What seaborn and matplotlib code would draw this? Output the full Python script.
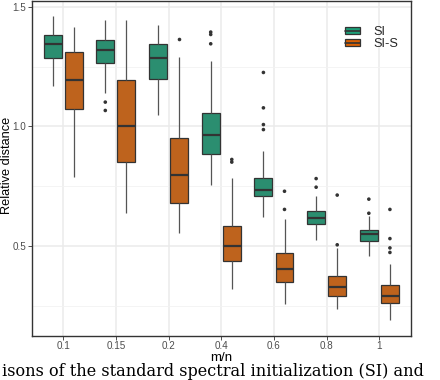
import numpy as np
import pandas as pd
import matplotlib
matplotlib.use("Agg")
import matplotlib.pyplot as plt
import seaborn as sns
from matplotlib.patches import Patch
from matplotlib.lines import Line2D
from matplotlib.legend_handler import HandlerTuple

categories = ["0.1", "0.15", "0.2", "0.4", "0.6", "0.8", "1"]
methods = ["SI", "SI-S"]
colors = ["#1B9E77", "#D95F02"]

# SI box summaries (lower whisker, Q1, median, Q3, upper whisker)
si_whislo = [1.169, 1.141, 1.046, 0.757, 0.622, 0.524, 0.460]
si_q1 = [1.287, 1.265, 1.197, 0.884, 0.708, 0.593, 0.522]
si_med = [1.346, 1.319, 1.287, 0.964, 0.736, 0.619, 0.552]
si_q3 = [1.382, 1.361, 1.344, 1.057, 0.784, 0.646, 0.568]
si_whishi = [1.464, 1.446, 1.425, 1.273, 0.897, 0.711, 0.625]
si_outliers = [[], [1.102, 1.067], [], [1.395, 1.385, 1.346],
               [1.226, 1.078, 1.008, 0.987], [0.782, 0.746], [0.696, 0.637]]

# SI-S box summaries
ss_whislo = [0.790, 0.637, 0.555, 0.321, 0.259, 0.237, 0.190]
ss_q1 = [1.074, 0.851, 0.681, 0.439, 0.348, 0.289, 0.262]
ss_med = [1.194, 1.001, 0.795, 0.502, 0.402, 0.328, 0.290]
ss_q3 = [1.312, 1.194, 0.950, 0.583, 0.472, 0.374, 0.336]
ss_whishi = [1.415, 1.446, 1.292, 0.785, 0.615, 0.490, 0.426]
ss_outliers = [[], [], [1.365], [0.862, 0.851], [0.729, 0.653],
               [0.713, 0.505], [0.653, 0.531, 0.492, 0.473]]

y_ticks = [0.5, 1.0, 1.5]
y_tick_labels = ["0.5", "1.0", "1.5"]
x_label = "m/n"
y_label = "Relative distance"
caption = "isons of the standard spectral initialization (SI) and"

rows = []
out_rows = []
series = {
    "SI": (si_whislo, si_q1, si_med, si_q3, si_whishi, si_outliers),
    "SI-S": (ss_whislo, ss_q1, ss_med, ss_q3, ss_whishi, ss_outliers),
}
for m, (lo, q1, md, q3, hi, outs) in series.items():
    for i, c in enumerate(categories):
        for v in (lo[i], q1[i], md[i], q3[i], hi[i]):
            rows.append({"mn": c, "method": m, "value": v})
        for v in outs[i]:
            out_rows.append({"mn": c, "method": m, "value": v})
df = pd.DataFrame(rows)
df_out = pd.DataFrame(out_rows)

sns.set_theme(style="white")
plt.rcParams["font.family"] = ["Liberation Sans", "DejaVu Sans"]

fig = plt.figure(figsize=(4.4, 3.8), dpi=100)
L, R, T, B = 31.5, 411, 1, 335.7
ax = fig.add_axes([L / 440, 1 - B / 380, (R - L) / 440, (B - T) / 380])

edge = "#333333"
sns.boxplot(data=df, x="mn", y="value", hue="method", order=categories,
            hue_order=methods, palette=colors, width=0.8, gap=0.15,
            whis=np.inf, showfliers=False, linewidth=0.9, linecolor=edge,
            medianprops={"linewidth": 1.6, "color": edge},
            whiskerprops={"linewidth": 0.9, "color": "#555555"},
            capprops={"linewidth": 0},
            legend=False, ax=ax, zorder=3)
sns.stripplot(data=df_out, x="mn", y="value", hue="method", order=categories,
              hue_order=methods, palette={m: edge for m in methods},
              dodge=True, jitter=False, size=2.6, linewidth=0,
              legend=False, ax=ax, zorder=4)

ax.set_ylim(0.1247, 1.525)
ax.set_xlim(-0.6, len(categories) - 0.4)
ax.set_yticks(y_ticks)
ax.set_yticklabels(y_tick_labels)
ax.set_yticks([0.25, 0.75, 1.25], minor=True)
ax.grid(True, which="major", color="#EBEBEB", linewidth=1.1, zorder=0)
ax.grid(True, which="minor", axis="y", color="#F2F2F2", linewidth=0.6, zorder=0)
ax.set_axisbelow(True)
for s in ax.spines.values():
    s.set_color(edge)
    s.set_linewidth(1.0)
ax.tick_params(axis="both", which="major", length=2.8, width=0.6, color=edge,
               labelsize=7.1, labelcolor="#4D4D4D", pad=1.2, direction="out",
               bottom=True, left=True)
ax.tick_params(axis="y", which="minor", length=0)
ax.set_xlabel(x_label, fontsize=9.6, color="black", labelpad=0.5)
ax.set_ylabel(y_label, fontsize=9.2, color="black")
ax.yaxis.set_label_coords(-0.050, 0.51)

handles = [(Patch(facecolor=c, edgecolor=edge, linewidth=0.9),
            Line2D([], [], color=edge, linewidth=1.2)) for c in colors]
ax.legend(handles, methods, handler_map={tuple: HandlerTuple(ndivide=1)},
          loc="upper left", bbox_to_anchor=(0.826, 0.925), frameon=False,
          fontsize=9.2, handlelength=1.2, handleheight=0.4,
          handletextpad=1.0, labelspacing=0.0, borderpad=0, borderaxespad=0)

fig.text(2 / 440, 1 - 362.5 / 380, caption, fontsize=11.6,
         family=["DejaVu Serif"], va="top", ha="left", color="black")

fig.savefig("out.png", dpi=100)
